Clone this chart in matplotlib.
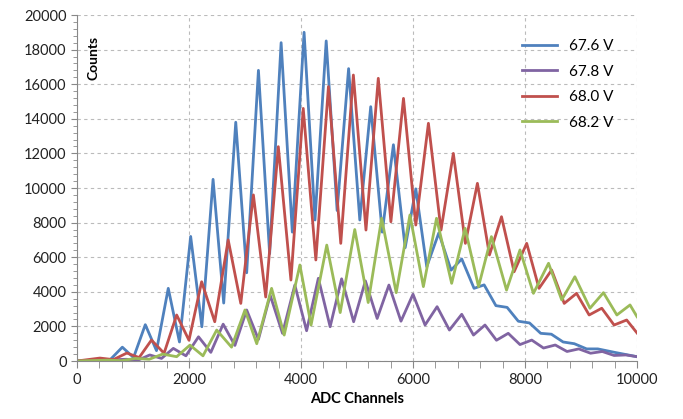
import matplotlib.pyplot as plt
from matplotlib.ticker import MultipleLocator

# ---------------------------------------------------- data (valleys / peaks)
blue_x = [0, 400, 600, 810, 1010, 1220, 1420, 1630, 1830, 2030, 2230, 2430, 2620, 2835, 3030,
          3240, 3440, 3645, 3845, 4055, 4250, 4450, 4645, 4850, 5050, 5245, 5450, 5650, 5860,
          6050, 6245, 6460, 6680, 6870, 7090, 7270, 7480, 7680, 7880, 8080, 8280, 8470, 8680,
          8880, 9100, 9300, 9600, 10000]
blue_y = [0, 50, 100, 800, 200, 2100, 600, 4200, 1100, 7200, 1980, 10500, 3350, 13800, 5100,
          16800, 6200, 18400, 7450, 19000, 8150, 18500, 8700, 16900, 8150, 14700, 7450, 12500, 6550,
          9950, 5450, 7400, 5250, 5900, 4200, 4400, 3200, 3100, 2300, 2200, 1600, 1550, 1100,
          1000, 700, 700, 500, 250]

purple_x = [0, 880, 1090, 1300, 1510, 1720, 1945, 2170, 2390, 2610, 2820, 3030, 3240, 3450,
            3670, 3890, 4100, 4310, 4520, 4725, 4940, 5150, 5360, 5570, 5785, 6000, 6215, 6430,
            6650, 6870, 7080, 7285, 7490, 7700, 7910, 8120, 8330, 8540, 8750, 8960, 9170, 9380,
            9590, 9800, 10000]
purple_y = [0, 100, 50, 350, 150, 730, 300, 1400, 500, 2130, 900, 2950, 1250, 3800,
            1600, 4390, 1750, 4780, 1980, 4750, 2270, 4630, 2460, 4390, 2300, 3860, 2080, 3140,
            1790, 2700, 1500, 2080, 1200, 1600, 950, 1210, 750, 925, 550, 700, 450, 550,
            320, 350, 250]

red_x = [0, 410, 650, 890, 1110, 1330, 1555, 1780, 2000, 2226, 2460, 2700, 2925, 3150, 3370,
         3595, 3820, 4040, 4265, 4490, 4710, 4935, 5160, 5380, 5605, 5830, 6050, 6275, 6500,
         6720, 6935, 7150, 7365, 7580, 7805, 8030, 8250, 8475, 8700, 8920, 9145, 9370, 9590,
         9815, 10000]
red_y = [0, 170, 80, 460, 200, 1210, 450, 2660, 1200, 4580, 2270, 7000, 3330, 9600, 3700,
         12390, 4680, 14600, 5840, 15860, 6800, 16530, 7570, 16340, 8050, 15180, 7860, 13740, 7570,
         12000, 6800, 10270, 6130, 8340, 5160, 6800, 4200, 5260, 3330, 3910, 2660, 3050, 2080,
         2370, 1620]

green_x = [0, 550, 800, 1040, 1290, 1530, 1780, 2018, 2250, 2495, 2760, 3000, 3210, 3475, 3700,
           3980, 4180, 4460, 4700, 4960, 5200, 5440, 5700, 5945, 6185, 6420, 6690, 6930, 7170,
           7400, 7670, 7910, 8150, 8420, 8655, 8890, 9160, 9400, 9640, 9875, 10000]
green_y = [0, 50, 20, 150, 100, 400, 250, 920, 300, 1790, 800, 2950, 1000, 4200, 1500,
           5550, 2080, 6700, 2800, 7600, 3380, 8250, 3950, 8440, 4300, 8250, 4490, 7670, 4300,
           7190, 4100, 6420, 3910, 5650, 3530, 4870, 3050, 3950, 2660, 3240, 2560]

labels = ["67.6 V", "67.8 V", "68.0 V", "68.2 V"]
colors = ["#4F81BD", "#8064A2", "#C0504D", "#9BBB59"]

# ---------------------------------------------------- figure
plt.rcParams['font.family'] = ['Lato', 'DejaVu Sans']
fig = plt.figure(figsize=(6.83, 4.19), dpi=100)
ax = fig.add_axes([0.1127, 0.1384, 0.82, 0.8258])

series = [(blue_x, blue_y), (purple_x, purple_y), (red_x, red_y), (green_x, green_y)]
for (xs, ys), lab, col in zip(series, labels, colors):
    ax.plot(xs, ys, color=col, lw=2, label=lab)

ax.set_xlim(0, 10000)
ax.set_ylim(0, 20000)
ax.xaxis.set_major_locator(MultipleLocator(2000))
ax.xaxis.set_minor_locator(MultipleLocator(400))
ax.yaxis.set_major_locator(MultipleLocator(2000))
ax.yaxis.set_minor_locator(MultipleLocator(400))
ax.tick_params(axis='both', which='both', color='#888888', labelsize=10.5, labelcolor='#222222')
ax.tick_params(axis='x', which='both', length=5, direction='out')
ax.tick_params(axis='y', which='major', length=4, direction='out')
ax.tick_params(axis='y', which='minor', length=3, direction='out')

ax.grid(True, which='major', color='#BBBBBB', linestyle=(0, (3, 3)), lw=0.8)
ax.set_axisbelow(True)
for s in ['top', 'right']:
    ax.spines[s].set_visible(False)
for s in ['left', 'bottom']:
    ax.spines[s].set_color('#888888')

ax.set_xlabel("ADC Channels", fontweight='bold', fontsize=10.5, labelpad=4)
ax.text(0.029, 0.875, "Counts", transform=ax.transAxes, rotation=90, fontweight='bold',
        fontsize=10, ha='center', va='center')

ax.legend(loc='upper left', bbox_to_anchor=(0.77, 0.97), frameon=False, fontsize=11,
          handlelength=2.3, labelspacing=0.75)

fig.savefig("out.png", dpi=100)
